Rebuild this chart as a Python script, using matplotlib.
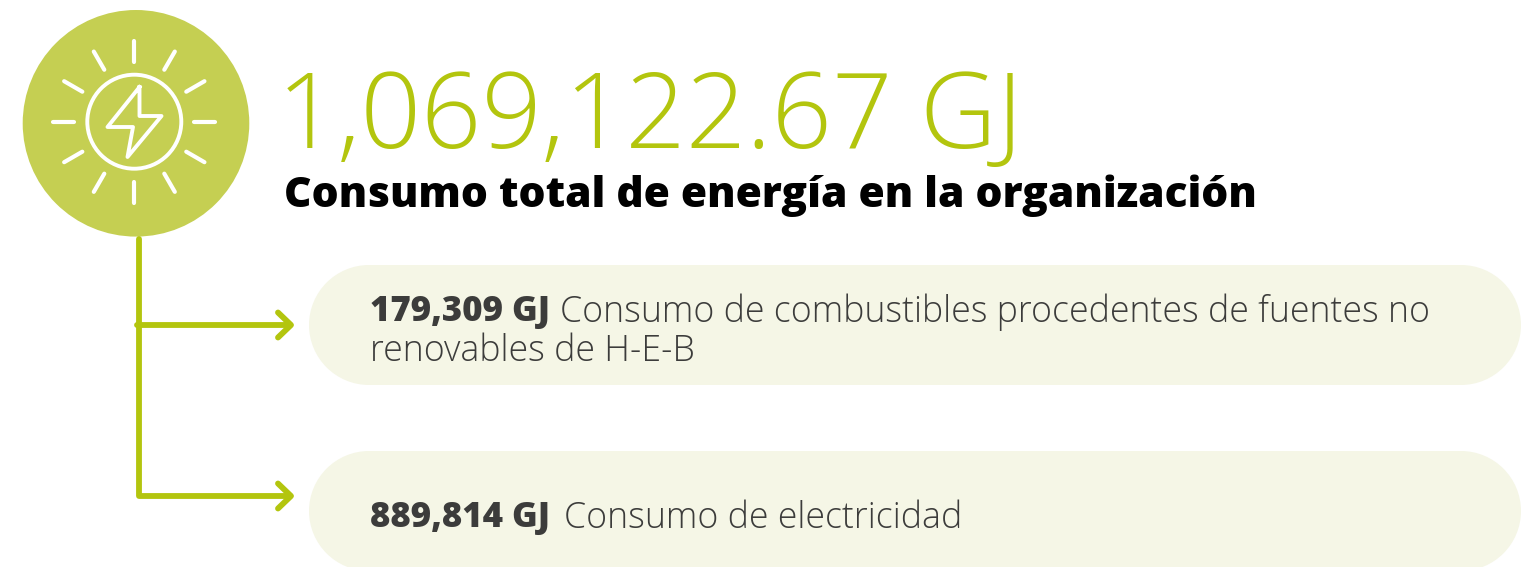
import numpy as np
import matplotlib
matplotlib.use('Agg')
import matplotlib.pyplot as plt
from matplotlib.patches import Circle, Rectangle

# text content
total_label = '1,069,122.67 GJ'
title = 'Consumo total de energía en la organización'
value_1 = '179,309 GJ'
desc_1 = ['Consumo de combustibles procedentes de fuentes no', 'renovables de H-E-B']
value_2 = '889,814 GJ'
desc_2 = ['Consumo de electricidad']

GREEN = '#b3c50e'
ICON = '#c5cf52'
PILL = '#f5f6e6'
DARK = '#3c3c3b'
FONT = 'Open Sans'

fig = plt.figure(figsize=(15.36, 5.67), dpi=100)
ax = fig.add_axes([0, 0, 1, 1])
ax.set_xlim(0, 1536)
ax.set_ylim(567, 0)
ax.axis('off')

# pills
for top in (265, 451):
    ax.add_patch(Rectangle((369, top), 1092, 120, fc=PILL, ec='none'))
    ax.add_patch(Circle((369, top + 60), 60, fc=PILL, ec='none'))
    ax.add_patch(Circle((1461, top + 60), 60, fc=PILL, ec='none'))

# icon
ax.add_patch(Circle((136, 123.3), 113.3, fc=ICON, ec='none'))
ax.add_patch(Circle((134.3, 121.7), 47, fc='none', ec='white', lw=2.8))
for a in range(0, 360, 30):
    c, s = np.cos(np.radians(a)), np.sin(np.radians(a))
    ax.plot([134.3 + 60 * c, 134.3 + 81 * c], [121.7 + 60 * s, 121.7 + 81 * s], color='white', lw=3,
            solid_capstyle='round')
bx = [139.5, 107.5, 133, 127.5, 161.5, 139.5, 139.5]
by = [87, 127, 127, 157, 116, 116, 87]
ax.plot(bx, by, color='white', lw=2.8, solid_joinstyle='round')

# connector lines
ax.plot([139, 139, 290], [239, 496, 496], color=GREEN, lw=4.2, solid_joinstyle='round', solid_capstyle='round')
ax.plot([136.5, 290], [325, 325], color=GREEN, lw=4.2, solid_capstyle='round')
for y in (325, 496):
    ax.plot([278, 291, 278], [y - 12.5, y, y + 12.5], color=GREEN, lw=4.2, solid_capstyle='round',
            solid_joinstyle='round')

# text
ax.text(277, 148, total_label, fontsize=76.3, family=FONT, weight=300, stretch='normal', color=GREEN, va='baseline')
ax.text(284, 207, title, fontsize=30.65, family=FONT, weight=800, color='black', va='baseline')

ax.text(370, 321, value_1, fontsize=25, family=FONT, weight=800, color=DARK, va='baseline')
ax.text(560, 322, desc_1[0], fontsize=25.7, family=FONT, weight=300, stretch='normal', color=DARK, va='baseline')
ax.text(370, 361, desc_1[1], fontsize=25.7, family=FONT, weight=300, stretch='normal', color=DARK, va='baseline')
ax.text(370, 527, value_2, fontsize=25, family=FONT, weight=800, color=DARK, va='baseline')
ax.text(564, 528, desc_2[0], fontsize=25.7, family=FONT, weight=300, stretch='normal', color=DARK, va='baseline')

fig.savefig('out.png', dpi=100, facecolor='white')
